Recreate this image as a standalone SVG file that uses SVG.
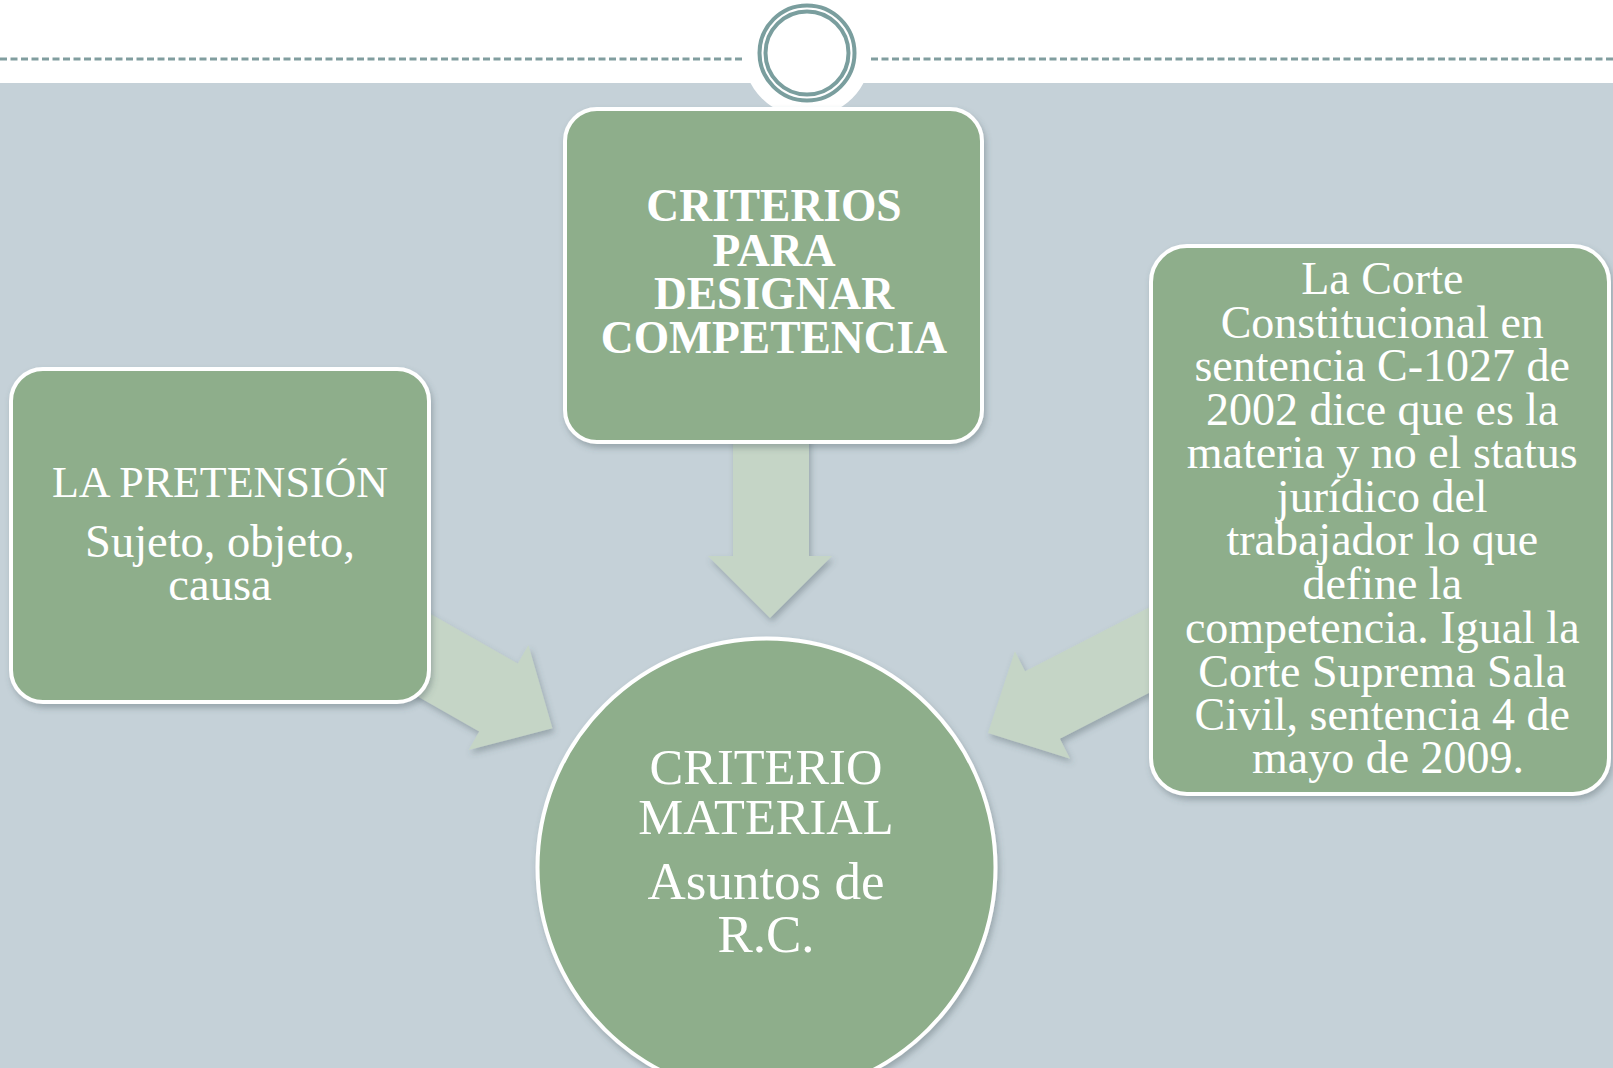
<svg xmlns="http://www.w3.org/2000/svg" width="1613" height="1068" viewBox="0 0 1613 1068">
<defs>
<filter id="sh" x="-20%" y="-20%" width="140%" height="140%">
<feDropShadow dx="2" dy="4" stdDeviation="3" flood-color="#44525a" flood-opacity="0.35"/>
</filter>
<style>
.node{fill:#8eae8b;stroke:#ffffff;stroke-width:4;}
.arrow{fill:#c5d5c6;}
.t{font-family:"Liberation Serif","Times New Roman",serif;fill:#ffffff;text-anchor:middle;}
.b{font-weight:bold;}
.dash{stroke:#819e9f;stroke-width:3;stroke-dasharray:7 3.5;fill:none;}
.ring{fill:none;stroke:#7a9e9e;stroke-width:4;}
</style>
</defs>
<rect x="0" y="0" width="1613" height="1068" fill="#c5d1d8"/>
<rect x="0" y="0" width="1613" height="83" fill="#ffffff"/>
<g id="header">
<circle cx="807" cy="53" r="64" fill="#ffffff"/>
<line class="dash" x1="0" y1="59" x2="742" y2="59"/>
<line class="dash" x1="871" y1="59" x2="1613" y2="59"/>
<circle class="ring" cx="807" cy="53" r="47.5"/>
<circle class="ring" cx="807" cy="53" r="41.5"/>
</g>
<g id="connectors">
<polygon class="arrow" filter="url(#sh)" points="733,420 809,420 809,556 832,556 770,618 708,556 733,556"/>
<polygon class="arrow" filter="url(#sh)" points="378.8,584.4 517.8,663.6 528.4,644.9 552.4,728.2 468.6,750.1 479.2,731.4 340.2,652.2"/>
<polygon class="arrow" filter="url(#sh)" points="1176.2,593.5 1025.1,671.2 1014.9,651.2 988,733 1070.1,758.8 1059.9,738.8 1211,661.1"/>
</g>
<g id="node-criterios">
<rect class="node" filter="url(#sh)" x="565" y="109" width="417" height="333" rx="32"/>
<text class="t b" font-size="45.5"><tspan x="774" y="221">CRITERIOS</tspan><tspan x="774" y="266">PARA</tspan><tspan x="774" y="309">DESIGNAR</tspan><tspan x="774" y="353">COMPETENCIA</tspan></text>
</g>
<g id="node-pretension">
<rect class="node" filter="url(#sh)" x="11" y="369" width="418" height="333" rx="32"/>
<text class="t"><tspan x="220" y="497" font-size="44">LA PRETENSIÓN</tspan><tspan x="220" y="557" font-size="46.5">Sujeto, objeto,</tspan><tspan x="220" y="600" font-size="46.5">causa</tspan></text>
</g>
<g id="node-corte">
<rect class="node" filter="url(#sh)" x="1151" y="246" width="458" height="548" rx="36"/>
<text class="t" font-size="46">
<tspan x="1388" y="294">La Corte</tspan>
<tspan x="1388" y="338">Constitucional en</tspan>
<tspan x="1388" y="381">sentencia C-1027 de</tspan>
<tspan x="1388" y="425">2002 dice que es la</tspan>
<tspan x="1388" y="468">materia y no el status</tspan>
<tspan x="1388" y="512">jurídico del</tspan>
<tspan x="1388" y="555">trabajador lo que</tspan>
<tspan x="1388" y="599">define la</tspan>
<tspan x="1388" y="643">competencia. Igual la</tspan>
<tspan x="1388" y="687">Corte Suprema Sala</tspan>
<tspan x="1388" y="730">Civil, sentencia 4 de</tspan>
<tspan x="1388" y="773">mayo de 2009.</tspan>
</text>
</g>
<g id="node-material">
<circle class="node" filter="url(#sh)" cx="766.5" cy="867.5" r="229"/>
<text class="t"><tspan x="766" y="784" font-size="50.5">CRITERIO</tspan><tspan x="766" y="834" font-size="50.5">MATERIAL</tspan><tspan x="766" y="899" font-size="53">Asuntos de</tspan><tspan x="766" y="952" font-size="53">R.C.</tspan></text>
</g>
</svg>
